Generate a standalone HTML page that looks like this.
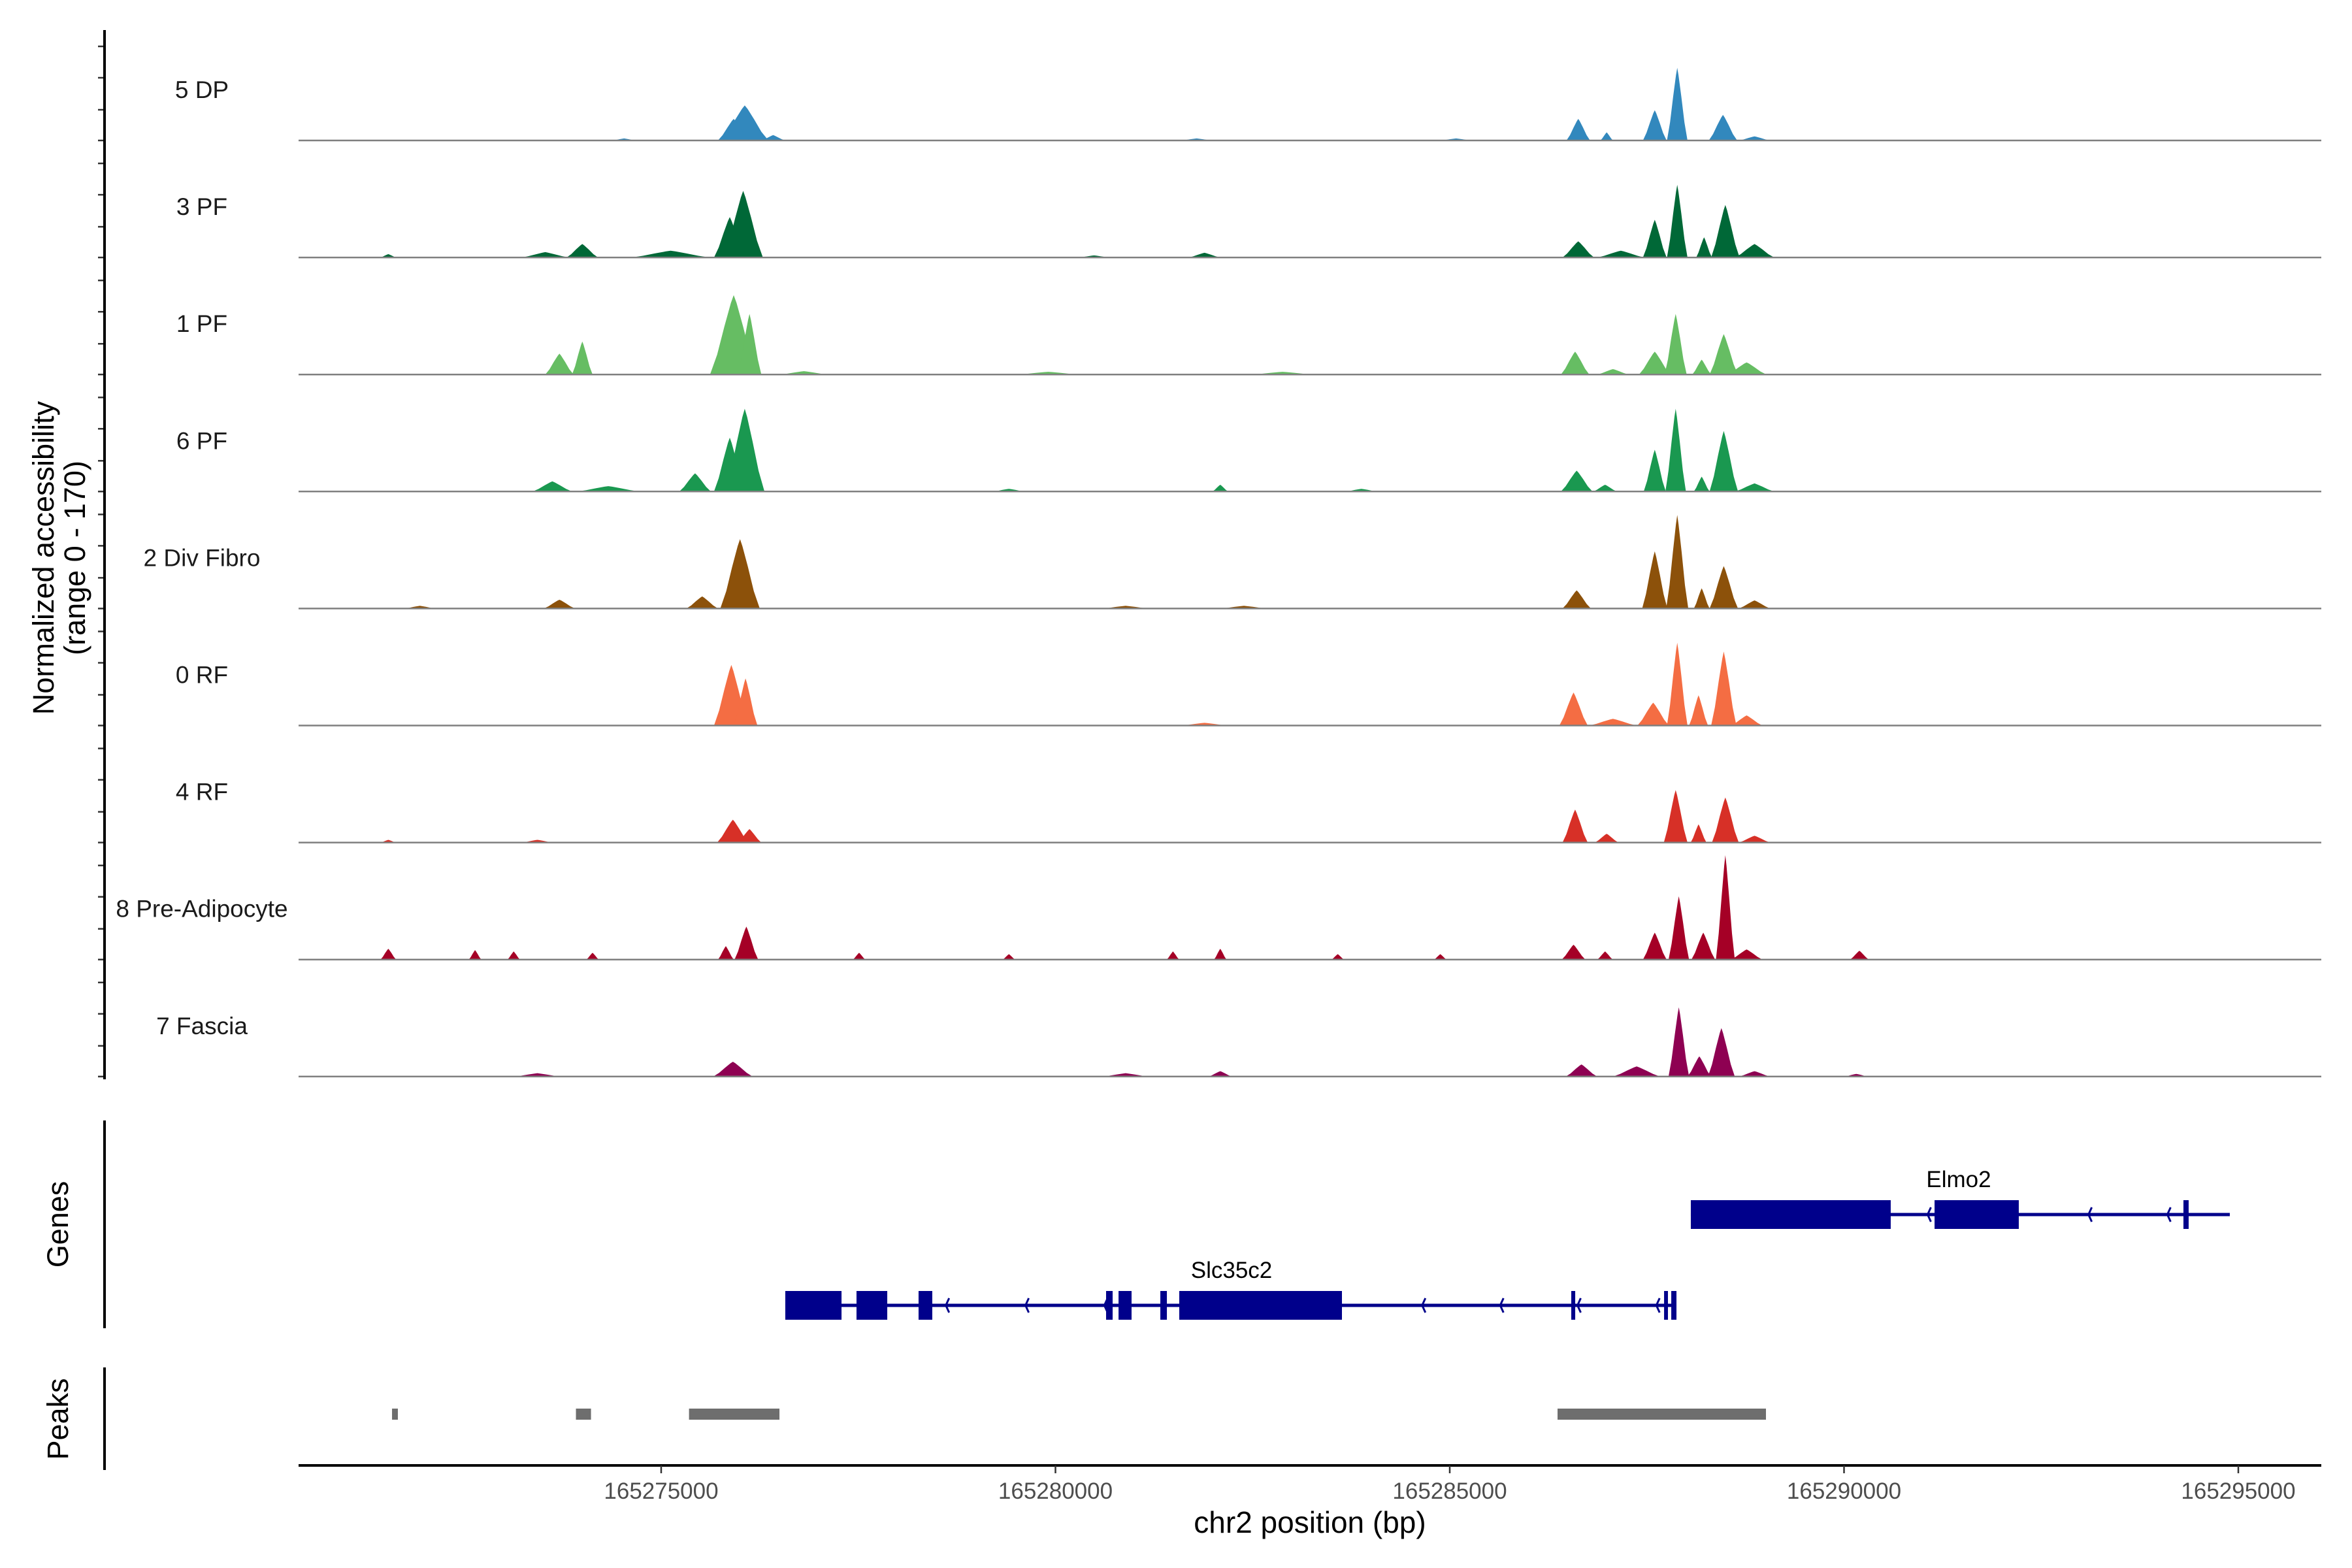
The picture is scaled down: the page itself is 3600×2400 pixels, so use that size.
<!DOCTYPE html>
<html><head><meta charset="utf-8"><style>
html,body{margin:0;padding:0;background:#fff}
svg{display:block;font-family:"Liberation Sans",Arial,sans-serif}
</style></head><body>
<svg id="chart" width="3600" height="2400" viewBox="0 0 3600 2400" xmlns="http://www.w3.org/2000/svg">
<g id="tracks"></g>
<g id="genes"></g>
<g id="peaks"></g>
<g id="axes"></g>
</svg>
<script>
// genomic positions in kb offset from 165270000
const xTicks = [165275000, 165280000, 165285000, 165290000, 165295000];
const trackNames = ["5 DP","3 PF","1 PF","6 PF","2 Div Fibro","0 RF","4 RF","8 Pre-Adipocyte","7 Fascia"];
const trackColors = ["#3288bd","#006837","#66bd63","#1a9850","#8c510a","#f46d43","#d73027","#a50026","#8e0152"];
// peaks per track: [center kb, value (0-170), half-width bp]
const peaks5DP = [[6.06,52,300],[5.92,32,200],[6.42,8,150],[4.53,3,150],[16.63,32,150],[16.99,12,80],[17.6,45,150],[17.885,108,130],[18.465,38,180],[18.865,6,200],[11.79,3,200],[15.08,3,200]];
const peaks3PF = [[6.04,99,250],[5.87,60,200],[5.12,10,500],[4.0,20,200],[3.53,8,300],[1.54,5,100],[16.63,24,200],[17.6,56,150],[17.885,108,130],[18.225,30,100],[18.495,78,180],[18.865,20,250],[17.17,10,300],[11.89,7,200],[10.49,3,200]];
const peaks1PF = [[5.92,118,300],[6.12,90,150],[3.71,31,180],[4.0,49,130],[16.59,34,180],[17.6,34,200],[17.865,90,140],[18.195,22,120],[18.475,60,180],[18.765,18,250],[17.07,8,200],[9.91,4,400],[12.88,4,400],[6.81,5,300]];
const peaks6PF = [[6.06,123,250],[5.87,80,200],[5.43,27,200],[3.62,15,250],[4.33,8,400],[12.09,10,100],[16.61,31,200],[16.97,10,150],[17.6,62,140],[17.865,123,130],[18.195,22,100],[18.475,90,180],[18.865,12,250],[9.41,4,200],[13.88,4,200]];
const peaksDivFibro = [[6.0,103,250],[5.52,18,200],[3.71,13,200],[1.94,4,200],[16.61,27,180],[17.6,85,160],[17.885,139,140],[18.195,30,100],[18.475,63,180],[18.865,12,200],[10.89,4,300],[12.39,4,300]];
const peaks0RF = [[5.89,90,220],[6.07,70,150],[16.57,49,180],[17.07,10,300],[17.58,34,200],[17.885,123,130],[18.155,45,120],[18.475,110,160],[18.765,15,200],[11.89,4,300]];
const peaks4RF = [[5.91,34,200],[6.12,20,150],[16.59,49,160],[16.99,13,150],[17.865,78,150],[18.155,27,100],[18.495,67,170],[18.865,10,200],[1.54,4,100],[3.43,4,200]];
const peaksPreAdip = [[6.08,49,150],[5.82,20,100],[1.54,16,100],[2.64,14,80],[3.13,12,80],[4.13,10,80],[7.51,10,80],[9.41,8,80],[11.49,12,80],[12.09,16,80],[13.58,8,80],[14.88,8,80],[16.57,22,150],[16.97,12,100],[17.6,40,150],[17.905,94,130],[18.495,155,120],[18.215,40,150],[18.765,15,200],[20.195,13,120]];
const peaksFascia = [[5.91,22,250],[3.43,5,300],[10.89,5,300],[12.09,8,150],[16.67,18,200],[17.37,15,300],[17.905,103,130],[18.445,72,170],[18.165,30,150],[18.865,8,200],[20.155,4,150]];
const trackPeaks = [peaks5DP,peaks3PF,peaks1PF,peaks6PF,peaksDivFibro,peaks0RF,peaks4RF,peaksPreAdip,peaksFascia];
// genes: exon intervals in kb offsets
const elmo2Exons = [[18.057,20.592],[21.148,22.216],[24.304,24.37]];
const elmo2Span = [18.057,24.892];
const elmo2Arrows = [21.06,23.1,24.1];
const slc35c2Exons = [[6.574,7.287],[7.477,7.867],[8.264,8.438],[10.642,10.725],[10.8,10.965],[11.33,11.413],[11.57,13.633],[16.541,16.591],[17.718,17.767],[17.809,17.875]];
const slc35c2Span = [6.574,17.875];
const slc35c2Arrows = [8.61,9.62,10.62,14.65,15.64,16.62,17.62];
const peakRegions = [[1.587,1.661],[3.919,4.11],[5.353,6.5],[16.367,19.01]];

const NS="http://www.w3.org/2000/svg";
const X0=457, X1=3553;
function x(kb){return 1012+(kb-5)*120.7;}
function xbp(bp){return x((bp-165270000)/1000);}
const BASE0=215, STEP=179.1, PXU=1.03;
function el(tag,attrs,parent){const e=document.createElementNS(NS,tag);for(const k in attrs)e.setAttribute(k,attrs[k]);parent.appendChild(e);return e;}
const gT=document.getElementById('tracks'), gG=document.getElementById('genes'), gP=document.getElementById('peaks'), gA=document.getElementById('axes');

trackNames.forEach((name,i)=>{
  const base=BASE0+i*STEP;
  const g=el('g',{},gT);
  
  
  trackPeaks[i].forEach(p=>{
    const c=p[0], h=p[1]*PXU, w=p[2]/1000;
    const pts=[[c-w,0],[c-w*0.7,h*0.25],[c-w*0.4,h*0.6],[c-w*0.12,h*0.9],[c,h],[c+w*0.12,h*0.9],[c+w*0.4,h*0.6],[c+w*0.7,h*0.25],[c+w,0]];
    const poly=el('polygon',{points:pts.map(q=>x(q[0]).toFixed(1)+','+(base-q[1]).toFixed(1)).join(' '),fill:trackColors[i]},g);
    
    
  });
  const bl=el('line',{x1:X0,x2:X1,y1:base,y2:base,stroke:'#7f7f7f','stroke-width':2.5},g);
  
  
  const t=el('text',{x:309,y:base-65,'text-anchor':'middle','font-size':37,fill:'#1a1a1a'},g);
  t.textContent=name;
  
  
  [144,96,47,0].forEach(o=>{const tk=el('line',{x1:150,x2:160,y1:base-o,y2:base-o,stroke:'#333','stroke-width':2.5},gA);
    
    });
});

const ya=el('line',{x1:160,x2:160,y1:46,y2:1652,stroke:'#000','stroke-width':4},gA);


const yt=el('text',{transform:'translate(82,854) rotate(-90)','text-anchor':'middle','font-size':45,fill:'#000'},gA);


yt.innerHTML='<tspan x="0" dy="0">Normalized accessibility</tspan><tspan x="0" dy="48">(range 0 - 170)</tspan>';

function drawGene(name,span,exons,arrows,y,labelX){
  const g=el('g',{},gG);
  
  
  el('line',{x1:x(span[0]),x2:x(span[1]),y1:y,y2:y,stroke:'#00008b','stroke-width':5},g);
  exons.forEach(e=>{const r=el('rect',{x:x(e[0]),y:y-22,width:Math.max(5,x(e[1])-x(e[0])),height:44,fill:'#00008b'},g);
    
    });
  arrows.forEach(a=>{const ax=x(a);el('polyline',{points:`${ax+5},${y-11} ${ax},${y} ${ax+5},${y+11}`,fill:'none',stroke:'#00008b','stroke-width':3},g);});
  const t=el('text',{x:labelX,y:y-42,'text-anchor':'middle','font-size':35,fill:'#000'},g);
  t.textContent=name;
  
  
}
drawGene('Elmo2',elmo2Span,elmo2Exons,elmo2Arrows,1859,2998);
drawGene('Slc35c2',slc35c2Span,slc35c2Exons,slc35c2Arrows,1998,1885);
const ga=el('line',{x1:160,x2:160,y1:1715,y2:2033,stroke:'#000','stroke-width':4},gA);


const gl=el('text',{transform:'translate(104,1874) rotate(-90)','text-anchor':'middle','font-size':45,fill:'#000'},gA);
gl.textContent='Genes';



peakRegions.forEach(p=>{const r=el('rect',{x:x(p[0]),y:2156,width:x(p[1])-x(p[0]),height:17,fill:'#6e6e6e'},gP);
  
  });
const pa=el('line',{x1:160,x2:160,y1:2093,y2:2250,stroke:'#000','stroke-width':4},gA);


const pl=el('text',{transform:'translate(104,2172) rotate(-90)','text-anchor':'middle','font-size':45,fill:'#000'},gA);
pl.textContent='Peaks';



const xa=el('line',{x1:X0,x2:X1,y1:2243,y2:2243,stroke:'#000','stroke-width':4},gA);


xTicks.forEach(v=>{const xx=xbp(v);
  const tk=el('line',{x1:xx,x2:xx,y1:2243,y2:2255,stroke:'#333','stroke-width':2.5},gA);
  
  
  const t=el('text',{x:xx,y:2294,'text-anchor':'middle','font-size':35,fill:'#4d4d4d'},gA);
  t.textContent=v;
  
  });
const xt=el('text',{x:2005,y:2346,'text-anchor':'middle','font-size':46,fill:'#000'},gA);
xt.textContent='chr2 position (bp)';


</script>
</body></html>
